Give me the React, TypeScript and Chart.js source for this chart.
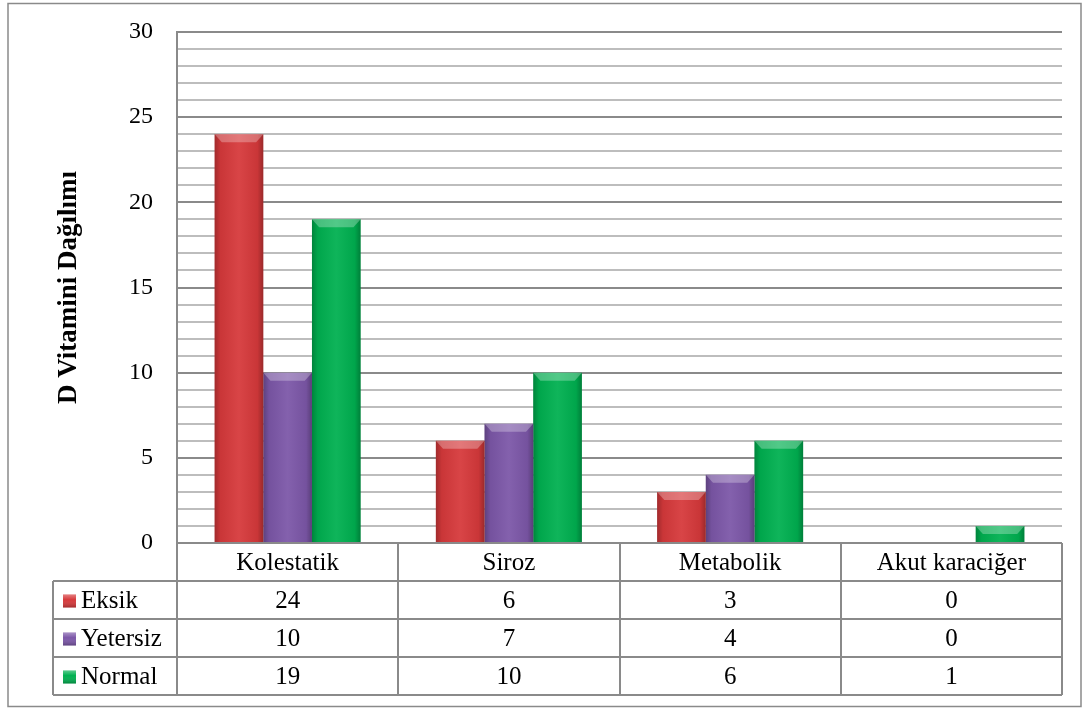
import React, { useEffect, useRef } from "react";
import { Chart, registerables } from "chart.js";

Chart.register(...registerables);

const categories = ["Kolestatik", "Siroz", "Metabolik", "Akut karaciğer"];
const seriesNames = ["Eksik", "Yetersiz", "Normal"];
const eksik = [24, 6, 3, 0];
const yetersiz = [10, 7, 4, 0];
const normal = [19, 10, 6, 1];
const seriesColors = ["#d6393b", "#7c57a8", "#00b050"];
const yMin = 0;
const yMax = 30;
const yStep = 1;
const yLabelEvery = 5;
const yTitle = "D Vitamini Dağılımı";

const FONT = "'Liberation Serif', 'Times New Roman', serif";
const ROW_H = 38;
const TABLE_LEFT = 53;
const LINE = "#8a8a8a";

const bevelPlugin = {
  id: "bevel",
  afterDatasetsDraw(chart: any) {
    const ctx = chart.ctx;
    chart.data.datasets.forEach((_ds: any, di: number) => {
      const meta = chart.getDatasetMeta(di);
      meta.data.forEach((el: any) => {
        const { x, y, base, width } = el.getProps(["x", "y", "base", "width"], true);
        const h = base - y;
        if (h < 1) return;
        const x0 = x - width / 2;
        const x1 = x + width / 2;
        ctx.save();
        const g = ctx.createLinearGradient(x0, 0, x1, 0);
        g.addColorStop(0, "rgba(0,0,0,0.25)");
        g.addColorStop(0.12, "rgba(0,0,0,0.06)");
        g.addColorStop(0.5, "rgba(255,255,255,0.06)");
        g.addColorStop(0.88, "rgba(0,0,0,0.06)");
        g.addColorStop(1, "rgba(0,0,0,0.28)");
        ctx.fillStyle = g;
        ctx.fillRect(x0, y, width, h);
        const b = Math.min(8, h / 2);
        ctx.beginPath();
        ctx.moveTo(x0, y);
        ctx.lineTo(x1, y);
        ctx.lineTo(x1 - b * 0.9, y + b);
        ctx.lineTo(x0 + b * 0.9, y + b);
        ctx.closePath();
        ctx.fillStyle = "rgba(255,255,255,0.28)";
        ctx.fill();
        ctx.restore();
      });
    });
  },
};

const tablePlugin = {
  id: "dataTable",
  afterDraw(chart: any) {
    const ctx = chart.ctx;
    const area = chart.chartArea;
    const xs = chart.scales.x;
    const n = categories.length;
    const colW = (area.right - area.left) / n;
    const top = area.bottom;
    const rows = chart.data.datasets.length;
    const bottom = top + ROW_H * (rows + 1);
    ctx.save();
    ctx.strokeStyle = LINE;
    ctx.lineWidth = 2;
    ctx.beginPath();
    for (let i = 0; i <= n; i++) {
      const xx = Math.round(area.left + colW * i);
      ctx.moveTo(xx, top);
      ctx.lineTo(xx, bottom);
    }
    ctx.moveTo(TABLE_LEFT, top + ROW_H);
    ctx.lineTo(TABLE_LEFT, bottom);
    for (let r = 1; r <= rows + 1; r++) {
      const yy = Math.round(top + ROW_H * r);
      ctx.moveTo(TABLE_LEFT, yy);
      ctx.lineTo(area.right, yy);
    }
    ctx.stroke();

    ctx.fillStyle = "#000";
    ctx.font = `25px ${FONT}`;
    ctx.textAlign = "center";
    ctx.textBaseline = "middle";
    categories.forEach((c, i) => {
      const cx = xs.getPixelForValue(i);
      ctx.fillText(c, cx, top + ROW_H / 2 + 1);
    });
    chart.data.datasets.forEach((ds: any, r: number) => {
      const cy = top + ROW_H * (r + 1) + ROW_H / 2 + 1;
      ds.data.forEach((v: number, i: number) => {
        ctx.textAlign = "center";
        ctx.fillText(String(v), xs.getPixelForValue(i), cy);
      });
      const kx = TABLE_LEFT + 10;
      const ks = 13;
      const ky = cy - ks / 2;
      const kg = ctx.createLinearGradient(0, ky, 0, ky + ks);
      kg.addColorStop(0, "rgba(255,255,255,0.35)");
      kg.addColorStop(0.4, "rgba(255,255,255,0)");
      kg.addColorStop(1, "rgba(0,0,0,0.25)");
      ctx.fillStyle = ds.backgroundColor;
      ctx.fillRect(kx, ky, ks, ks);
      ctx.fillStyle = kg;
      ctx.fillRect(kx, ky, ks, ks);
      ctx.fillStyle = "#000";
      ctx.textAlign = "left";
      ctx.fillText(ds.label, kx + ks + 5, cy);
    });

    ctx.strokeStyle = LINE;
    ctx.lineWidth = 1.5;
    ctx.strokeRect(8, 3.5, 1073, 703);
    ctx.restore();
  },
};

export default function App() {
  const ref = useRef<HTMLCanvasElement>(null);
  useEffect(() => {
    if (!ref.current) return;
    const values = [eksik, yetersiz, normal];
    const chart = new Chart(ref.current, {
      type: "bar",
      data: {
        labels: categories,
        datasets: seriesNames.map((name, i) => ({
          label: name,
          data: values[i],
          backgroundColor: seriesColors[i],
          borderWidth: 0,
          categoryPercentage: 0.66,
          barPercentage: 1,
        })),
      },
      options: {
        responsive: false,
        animation: false,
        layout: { padding: { left: 30, top: 32, right: 28, bottom: 166 } },
        plugins: {
          legend: { display: false },
          tooltip: { enabled: false },
        },
        scales: {
          x: { display: false },
          y: {
            min: yMin,
            max: yMax,
            afterFit(scale: any) {
              scale.width = 177 - 30;
              scale.paddingTop = 0;
              scale.paddingBottom = 0;
            },
            border: { display: true, color: LINE, width: 2 },
            grid: {
              drawTicks: false,
              color: (c: any) => (c.tick.value % yLabelEvery === 0 ? "#8a8a8a" : "#bdbdbd"),
              lineWidth: 2,
            },
            ticks: {
              stepSize: yStep,
              autoSkip: false,
              padding: 24,
              color: "#000",
              font: { family: FONT, size: 24 },
              callback: (v: any) => (Number(v) % yLabelEvery === 0 ? String(v) : ""),
            },
            title: {
              display: true,
              text: yTitle,
              color: "#000",
              font: { family: FONT, size: 27, weight: "bold" },
              padding: { top: 23, bottom: 0 },
            },
          },
        },
      },
      plugins: [bevelPlugin, tablePlugin],
    });
    return () => chart.destroy();
  }, []);
  return (
    <div style={{ position: "fixed", left: 0, top: 0, width: 1090, height: 709, background: "#fff" }}>
      <canvas ref={ref} width={1090} height={709} style={{ display: "block" }} />
    </div>
  );
}
